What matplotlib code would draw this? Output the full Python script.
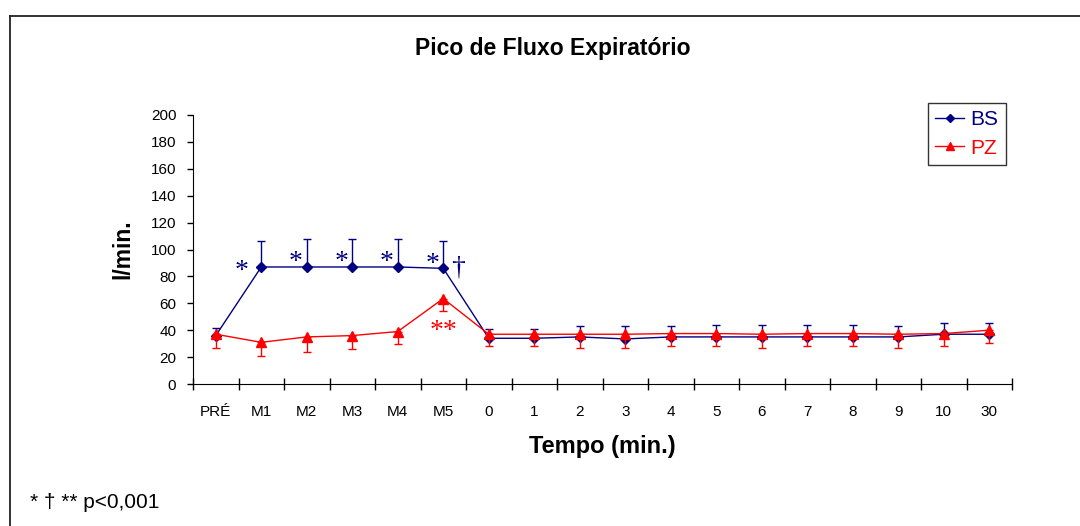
import numpy as np
import matplotlib
matplotlib.use('Agg')
import matplotlib.pyplot as plt
from matplotlib.lines import Line2D

# categories on the x axis (Excel style category axis)
tempos = ['PRÉ', 'M1', 'M2', 'M3', 'M4', 'M5', '0', '1', '2', '3',
          '4', '5', '6', '7', '8', '9', '10', '30']

# BS series, mean and upper error (SD)
bs = [36, 87, 87, 87, 87, 86, 34, 34, 35, 33.5, 35, 35, 35, 35, 35, 35, 37, 37]
bs_err = [6, 19, 20.5, 20.5, 20.5, 20, 7, 7, 8, 9.5, 8, 9, 9, 9, 9, 8, 8, 8]

# PZ series, mean and lower error (SD)
pz = [37, 31, 35, 36, 39, 63.5, 37, 37, 37, 37, 37.5, 37.5, 37, 37.5, 37.5, 37, 37.5, 40]
pz_err = [10, 10, 11.5, 10, 9, 9.5, 9, 9, 10.5, 10.5, 9, 9.5, 10.5, 9.5, 9.5, 10.5, 9.5, 9.5]

navy = '#000080'
red = '#FF0000'

plt.rcParams['font.family'] = ['Liberation Sans', 'DejaVu Sans']

fig = plt.figure(figsize=(10.8, 5.26), dpi=100)
ax = fig.add_axes([193/1080, 1-384/526, (1012-193)/1080, (384-115)/526])

x = np.arange(len(tempos))

ax.errorbar(x, bs, yerr=[np.zeros(len(bs)), bs_err], color=navy, lw=1,
            marker='D', ms=5, capsize=3, elinewidth=1, capthick=1, zorder=3)
ax.errorbar(x, pz, yerr=[pz_err, np.zeros(len(pz))], color=red, lw=1,
            marker='^', ms=7, capsize=3, elinewidth=1, capthick=1, zorder=4)

ax.set_xlim(-0.5, len(tempos) - 0.5)
ax.set_ylim(0, 200)
ax.set_yticks(np.arange(0, 201, 20))
ax.set_xticks(x)
ax.set_xticklabels(tempos)
ax.set_xticks(np.arange(-0.5, len(tempos)), minor=True)
ax.tick_params(axis='x', which='major', length=0, pad=15, labelsize=11)
ax.tick_params(axis='x', which='minor', direction='inout', length=8, width=1)
ax.tick_params(axis='y', direction='out', length=4, width=1, pad=8, labelsize=11)

ax.spines['top'].set_visible(False)
ax.spines['right'].set_visible(False)

ax.set_xlabel('Tempo (min.)', fontsize=17, fontweight='bold', labelpad=12)
ax.set_ylabel('l/min.', fontsize=16.5, fontweight='bold', labelpad=12)

fig.text(553/1080, 1-48/526, 'Pico de Fluxo Expiratório', ha='center', va='center',
         fontsize=16.5, fontweight='bold')

# significance marks
serif = ['Liberation Serif', 'DejaVu Serif']
for i in range(1, 6):
    dx = -14 if i == 1 else -8
    dy = -3 if i == 1 else 3
    ax.annotate('*', xy=(x[i], bs[i]), xytext=(dx, dy), textcoords='offset points',
                ha='center', va='center', color=navy, fontsize=20, family=serif)
ax.annotate('†', xy=(x[5], bs[5]), xytext=(11, 0), textcoords='offset points',
            ha='center', va='center', color=navy, fontsize=20, family=serif)
ax.annotate('**', xy=(x[5], pz[5]), xytext=(0, -24), textcoords='offset points',
            ha='center', va='center', color=red, fontsize=20, family=serif)

handles = [Line2D([], [], color=navy, lw=1, marker='D', ms=4.5),
           Line2D([], [], color=red, lw=1, marker='^', ms=6)]
leg = ax.legend(handles, ['BS', 'PZ'], loc='upper left',
                bbox_to_anchor=(928/1080, 1-103/526),
                bbox_transform=fig.transFigure, borderaxespad=0, fontsize=15,
                frameon=True, fancybox=False, handlelength=1.4, handletextpad=0.3,
                borderpad=0.35, labelspacing=0.45)
leg.get_frame().set_edgecolor('black')
leg.get_frame().set_linewidth(1)
for t, c in zip(leg.get_texts(), [navy, red]):
    t.set_color(c)

fig.text(30/1080, 1-502/526, '* † ** p<0,001', ha='left', va='center', fontsize=15)

# chart area border (only left and top visible)
fy = 1 - 15.5/526
fx = 9.5/1080
fig.add_artist(Line2D([fx, fx], [0, fy], transform=fig.transFigure, color='#222222', lw=1.3))
fig.add_artist(Line2D([fx, 1], [fy, fy], transform=fig.transFigure, color='#222222', lw=1.3))

fig.savefig('out.png', dpi=100)
